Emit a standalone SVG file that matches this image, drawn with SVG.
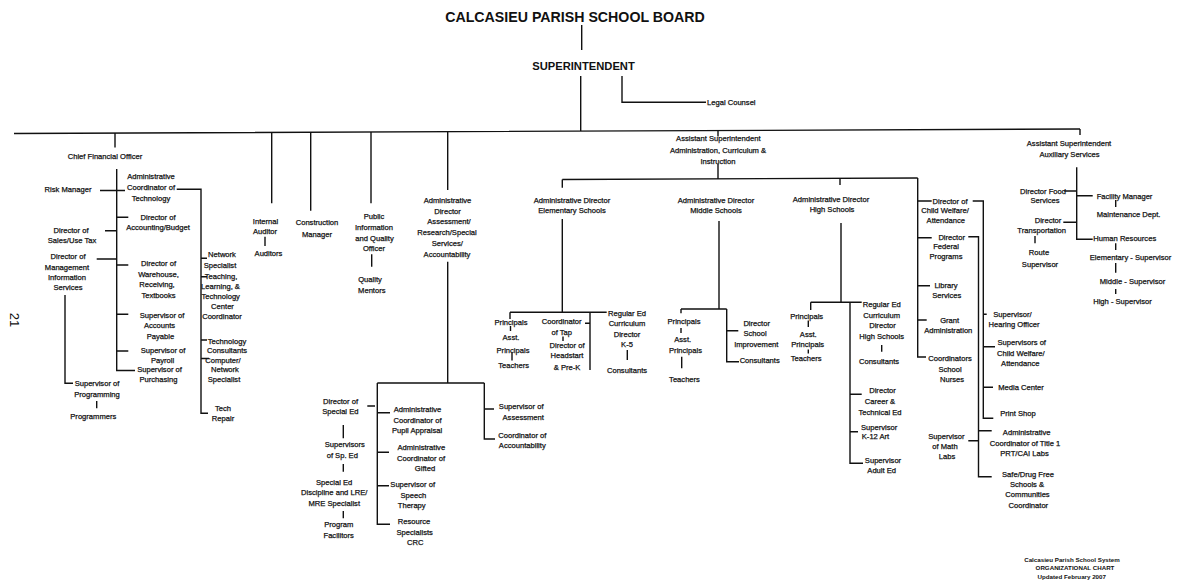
<svg xmlns="http://www.w3.org/2000/svg" width="1179" height="586" viewBox="0 0 1179 586">
<style>
.t{font-family:"Liberation Sans",Arial,sans-serif;font-size:7.6px;fill:#111;stroke:#111;stroke-width:0.25;text-anchor:middle}
.s{text-anchor:start}
.b{font-weight:bold;stroke:none}
.c{fill:none;stroke:#111;stroke-width:1.4}
</style>
<rect width="1179" height="586" fill="#fff"/>
<g id="connectors" class="c">
<path d="M581.7 25V50M580.7 76V131M622 76V102.3H706M14 133.5L1080 129"/>
<path d="M115 133V147.5M271.7 132.5V203.3M310.7 132.3V210.7M371 132V203.3M447.7 131.8V190M718 130.5V136.5M718 164V179M1080 129V135"/>
<path d="M116.7 169V370.5H135M100 190.5H125M116.7 217.3H128.3M105 230.7H116.7M96.7 259H116.7M116.7 265H128.3M116.7 314.3H128.3M116.7 351H128.3M65 295V383.3H73M96.7 401V408.3M176.7 189.3H201V413.3H208M201 258.3H207M201 276.7H207M201 340H207M201 358.5H209"/>
<path d="M265 236.7V246M371.7 254.3V266.7"/>
<path d="M447.7 261.7V383M377.3 383H484.3M377.3 383V524.3H390M377.3 412.7H390M377.3 452.3H389M377.3 485.7H389M367.3 406H375M484.3 383V439H495M484.3 409H494M343.3 425V438.3M343.3 464V471.7M343.3 511V518.3"/>
<path d="M562.3 179.5L917.7 178M562.3 179.5V187.7M562.3 219V312.3M510 312.3H606.7M510 312.3V319M510.5 326V331M512 352.7V360.5M590 312.3V370M585 323.3H590M563 336.5V341M627.3 350V360"/>
<path d="M719 221V309M681 309H726.7M681 309V313.3M681 328V333M681.7 356.7V368.3M726.7 309V361.7H739M726.7 330.7H738.3"/>
<path d="M840 178V185M841 223V302.3M810.7 302.3H861.7M810.7 302.3V310M808.3 320.5V327M808.3 349.5V353.5M850 302.3V463.3H863M850 394.3H861.7M850 431.7H858M881.7 345V351.7"/>
<path d="M917.7 178V357H926M917.7 201H931.7M917.7 237.7H931.7M917.7 285.7H930M917.7 320H926.7M972.7 201H983.3V418.3H993.3M983.3 314.3H986.7M983.3 346.7H995M983.3 387.3H993M968.3 236.7H978.5V476.7H991.7M978.5 430.7H991.7M968.3 440.7H978.5"/>
<path d="M1076.7 167.3V239.3H1092.7M1064.3 191H1076.7M1063.3 222.3H1076.7M1076.7 195.7H1092.7M1035 236V243.3M1115.7 200V207M1115.7 243.3V250M1115.7 263V272.7M1115.7 289V294"/>
</g>
<g id="board"><text class="t b" x="575" y="21.5" style="font-size:14.2px">CALCASIEU PARISH SCHOOL BOARD</text></g>
<g id="superintendent"><text class="t b" x="583.5" y="69.5" style="font-size:11.2px">SUPERINTENDENT</text></g>
<g id="legal"><text class="t s" x="707" y="105">Legal Counsel</text></g>
<g id="cfo"><text class="t" x="105" y="158.6">Chief Financial Officer</text></g>
<g id="risk"><text class="t" x="68" y="192">Risk Manager</text></g>
<g id="admtech"><text class="t"><tspan x="151" y="178.6">Administrative</tspan><tspan x="151" y="190.3">Coordinator of</tspan><tspan x="151" y="200.9">Technology</tspan></text></g>
<g id="accounting"><text class="t"><tspan x="158" y="219.9">Director of</tspan><tspan x="158" y="230.3">Accounting/Budget</tspan></text></g>
<g id="sales"><text class="t"><tspan x="71" y="232.6">Director of</tspan><tspan x="72" y="242.6">Sales/Use Tax</tspan></text></g>
<g id="mis"><text class="t"><tspan x="68" y="259.3">Director of</tspan><tspan x="67" y="269.9">Management</tspan><tspan x="67" y="280.3">Information</tspan><tspan x="68" y="290.3">Services</tspan></text></g>
<g id="warehouse"><text class="t"><tspan x="158.5" y="265.9">Director of</tspan><tspan x="158.5" y="276.6">Warehouse,</tspan><tspan x="157" y="286.9">Receiving,</tspan><tspan x="158.5" y="297.6">Textbooks</tspan></text></g>
<g id="payable"><text class="t"><tspan x="162" y="317.6">Supervisor of</tspan><tspan x="159.5" y="328.3">Accounts</tspan><tspan x="160.5" y="339.3">Payable</tspan></text></g>
<g id="payroll"><text class="t"><tspan x="163" y="352.6">Supervisor of</tspan><tspan x="162.5" y="362.6">Payroll</tspan></text></g>
<g id="purchasing"><text class="t"><tspan x="159.5" y="371.6">Supervisor of</tspan><tspan x="158.5" y="381.9">Purchasing</tspan></text></g>
<g id="programming"><text class="t"><tspan x="97" y="385.9">Supervisor of</tspan><tspan x="97" y="396.9">Programming</tspan></text></g>
<g id="programmers"><text class="t" x="93.3" y="419.3">Programmers</text></g>
<g id="network"><text class="t"><tspan x="222" y="256.9">Network</tspan><tspan x="220" y="268.3">Specialist</tspan></text></g>
<g id="teaching"><text class="t"><tspan x="221" y="279">Teaching,</tspan><tspan x="220.5" y="288.8">Learning, &amp;</tspan><tspan x="220.7" y="298.6">Technology</tspan><tspan x="222.5" y="308.6">Center</tspan><tspan x="222" y="318.6">Coordinator</tspan></text></g>
<g id="techcons"><text class="t"><tspan x="227" y="343.6">Technology</tspan><tspan x="227" y="353.3">Consultants</tspan></text></g>
<g id="computer"><text class="t"><tspan x="223" y="363">Computer/</tspan><tspan x="225" y="372.2">Network</tspan><tspan x="224" y="382">Specialist</tspan></text></g>
<g id="techrepair"><text class="t"><tspan x="223" y="410.9">Tech</tspan><tspan x="223" y="420.9">Repair</tspan></text></g>
<g id="auditor"><text class="t"><tspan x="265.5" y="223.6">Internal</tspan><tspan x="265" y="233.6">Auditor</tspan><tspan x="268.5" y="255.9">Auditors</tspan></text></g>
<g id="construction"><text class="t"><tspan x="317" y="225.3">Construction</tspan><tspan x="317" y="236.6">Manager</tspan></text></g>
<g id="public"><text class="t"><tspan x="374" y="218.6">Public</tspan><tspan x="374" y="229.9">Information</tspan><tspan x="374.5" y="240.9">and Quality</tspan><tspan x="374" y="250.9">Officer</tspan></text></g>
<g id="mentors"><text class="t"><tspan x="370" y="281.6">Quality</tspan><tspan x="371.8" y="292.6">Mentors</tspan></text></g>
<g id="assessment"><text class="t"><tspan x="447.5" y="202.6">Administrative</tspan><tspan x="447.5" y="213.6">Director</tspan><tspan x="449" y="224.3">Assessment/</tspan><tspan x="447" y="234.9">Research/Special</tspan><tspan x="447.3" y="245.9">Services/</tspan><tspan x="447" y="256.9">Accountability</tspan></text></g>
<g id="specialed"><text class="t"><tspan x="340.5" y="403.6">Director of</tspan><tspan x="340.3" y="413.6">Special Ed</tspan></text></g>
<g id="supsped"><text class="t"><tspan x="344.7" y="446.9">Supervisors</tspan><tspan x="342.3" y="457.6">of Sp. Ed</tspan></text></g>
<g id="discipline"><text class="t"><tspan x="334.2" y="484.9">Special Ed</tspan><tspan x="334.2" y="495.3">Discipline and LRE/</tspan><tspan x="334.3" y="505.9">MRE Specialist</tspan></text></g>
<g id="facilitors"><text class="t"><tspan x="338.7" y="526.9">Program</tspan><tspan x="338.7" y="537.6">Facilitors</tspan></text></g>
<g id="pupil"><text class="t"><tspan x="417.5" y="411.9">Administrative</tspan><tspan x="417.5" y="422.6">Coordinator of</tspan><tspan x="417" y="433.3">Pupil Appraisal</tspan></text></g>
<g id="gifted"><text class="t"><tspan x="421.3" y="450.3">Administrative</tspan><tspan x="421" y="460.9">Coordinator of</tspan><tspan x="425" y="470.9">Gifted</tspan></text></g>
<g id="speech"><text class="t"><tspan x="412.7" y="486.9">Supervisor of</tspan><tspan x="413.3" y="497.6">Speech</tspan><tspan x="411.7" y="508.3">Therapy</tspan></text></g>
<g id="resource"><text class="t"><tspan x="414" y="524.3">Resource</tspan><tspan x="414.7" y="534.9">Specialists</tspan><tspan x="415.3" y="545.3">CRC</tspan></text></g>
<g id="supassess"><text class="t"><tspan x="521.2" y="409.3">Supervisor of</tspan><tspan x="523.2" y="420.3">Assessment</tspan></text></g>
<g id="coordacc"><text class="t"><tspan x="522.3" y="437.6">Coordinator of</tspan><tspan x="522.3" y="448.3">Accountability</tspan></text></g>
<g id="asstadmin"><text class="t"><tspan x="718.3" y="140.9">Assistant Superintendent</tspan><tspan x="718" y="152.6">Administration, Curriculum &amp;</tspan><tspan x="718" y="163.6">Instruction</tspan></text></g>
<g id="elementary"><text class="t"><tspan x="572" y="202.9">Administrative Director</tspan><tspan x="572" y="213.3">Elementary Schools</tspan></text></g>
<g id="e-principals"><text class="t"><tspan x="511" y="325.3">Principals</tspan><tspan x="511" y="339.6">Asst.</tspan><tspan x="513" y="352.6">Principals</tspan><tspan x="513.7" y="367.6">Teachers</tspan></text></g>
<g id="tap"><text class="t"><tspan x="561.7" y="324.3">Coordinator</tspan><tspan x="561.7" y="334.9">of Tap</tspan></text></g>
<g id="headstart"><text class="t"><tspan x="567" y="347.6">Director of</tspan><tspan x="567" y="357.6">Headstart</tspan><tspan x="567" y="369.9">&amp; Pre-K</tspan></text></g>
<g id="regk5"><text class="t"><tspan x="627" y="315.9">Regular Ed</tspan><tspan x="627" y="325.9">Curriculum</tspan><tspan x="627" y="336.6">Director</tspan><tspan x="627" y="346.9">K-5</tspan><tspan x="627" y="372.6">Consultants</tspan></text></g>
<g id="middle"><text class="t"><tspan x="716" y="203.3">Administrative Director</tspan><tspan x="716" y="213.3">Middle Schools</tspan></text></g>
<g id="m-principals"><text class="t"><tspan x="684" y="323.6">Principals</tspan><tspan x="682.7" y="341.6">Asst.</tspan><tspan x="685.5" y="352.6">Principals</tspan><tspan x="684.5" y="381.9">Teachers</tspan></text></g>
<g id="improvement"><text class="t"><tspan x="756.7" y="325.9">Director</tspan><tspan x="755" y="335.9">School</tspan><tspan x="756.3" y="346.9">Improvement</tspan></text></g>
<g id="m-consultants"><text class="t" x="759.7" y="362.6">Consultants</text></g>
<g id="high"><text class="t"><tspan x="831" y="201.9">Administrative Director</tspan><tspan x="832" y="211.9">High Schools</tspan></text></g>
<g id="h-principals"><text class="t"><tspan x="806.7" y="319.3">Principals</tspan><tspan x="808.3" y="336.9">Asst.</tspan><tspan x="807.7" y="346.9">Principals</tspan><tspan x="806.2" y="360.9">Teachers</tspan></text></g>
<g id="reghs"><text class="t"><tspan x="881.7" y="306.9">Regular Ed</tspan><tspan x="881.7" y="317.6">Curriculum</tspan><tspan x="882.5" y="328.3">Director</tspan><tspan x="881.7" y="339.3">High Schools</tspan><tspan x="879" y="364.3">Consultants</tspan></text></g>
<g id="career"><text class="t"><tspan x="882.5" y="393.3">Director</tspan><tspan x="880" y="404.3">Career &amp;</tspan><tspan x="880" y="414.9">Technical Ed</tspan></text></g>
<g id="k12art"><text class="t"><tspan x="879.2" y="429.9">Supervisor</tspan><tspan x="875.5" y="439.3">K-12 Art</tspan></text></g>
<g id="adulted"><text class="t"><tspan x="883" y="462.6">Supervisor</tspan><tspan x="881.7" y="473.3">Adult Ed</tspan></text></g>
<g id="childwelfare"><text class="t"><tspan x="950" y="203.6">Director of</tspan><tspan x="945" y="212.6">Child Welfare/</tspan><tspan x="945.8" y="222.6">Attendance</tspan></text></g>
<g id="federal"><text class="t"><tspan x="951.7" y="240.3">Director</tspan><tspan x="946" y="248.6">Federal</tspan><tspan x="946" y="258.6">Programs</tspan></text></g>
<g id="library"><text class="t"><tspan x="946" y="288.3">Library</tspan><tspan x="946.7" y="297.9">Services</tspan></text></g>
<g id="grant"><text class="t"><tspan x="949.7" y="322.6">Grant</tspan><tspan x="948.3" y="333.3">Administration</tspan></text></g>
<g id="nurses"><text class="t"><tspan x="950" y="360.9">Coordinators</tspan><tspan x="950" y="371.6">School</tspan><tspan x="952" y="381.6">Nurses</tspan></text></g>
<g id="mathlabs"><text class="t"><tspan x="946.3" y="438.6">Supervisor</tspan><tspan x="945" y="449.3">of Math</tspan><tspan x="947" y="459.3">Labs</tspan></text></g>
<g id="hearing"><text class="t"><tspan x="1012.5" y="316.9">Supervisor/</tspan><tspan x="1014" y="327">Hearing Officer</tspan></text></g>
<g id="supcw"><text class="t"><tspan x="1021.7" y="345.3">Supervisors of</tspan><tspan x="1020.8" y="355.9">Child Welfare/</tspan><tspan x="1020.3" y="365.9">Attendance</tspan></text></g>
<g id="media"><text class="t" x="1021" y="389.9">Media Center</text></g>
<g id="print"><text class="t" x="1018" y="415.9">Print Shop</text></g>
<g id="title1"><text class="t"><tspan x="1026.7" y="434.9">Administrative</tspan><tspan x="1025" y="445.9">Coordinator of Title 1</tspan><tspan x="1024.5" y="455.9">PRT/CAI Labs</tspan></text></g>
<g id="safe"><text class="t"><tspan x="1028" y="476.6">Safe/Drug Free</tspan><tspan x="1027" y="486.9">Schools &amp;</tspan><tspan x="1027.5" y="496.9">Communities</tspan><tspan x="1028.3" y="507.6">Coordinator</tspan></text></g>
<g id="auxiliary"><text class="t"><tspan x="1069" y="145.9">Assistant Superintendent</tspan><tspan x="1069.5" y="156.6">Auxiliary Services</tspan></text></g>
<g id="food"><text class="t"><tspan x="1043" y="193.6">Director Food</tspan><tspan x="1045" y="203.3">Services</tspan></text></g>
<g id="transport"><text class="t"><tspan x="1048" y="222.6">Director</tspan><tspan x="1041.7" y="232.6">Transportation</tspan></text></g>
<g id="route"><text class="t"><tspan x="1039" y="255.3">Route</tspan><tspan x="1040" y="266.6">Supervisor</tspan></text></g>
<g id="facility"><text class="t s" x="1096.7" y="198.6">Facility Manager</text></g>
<g id="maintenance"><text class="t s" x="1096.7" y="216.9">Maintenance Dept.</text></g>
<g id="hr"><text class="t s" x="1093.3" y="241.3">Human Resources</text></g>
<g id="elemsup"><text class="t" x="1130.5" y="259.9">Elementary - Supervisor</text></g>
<g id="midsup"><text class="t" x="1132.5" y="284.3">Middle - Supervisor</text></g>
<g id="highsup"><text class="t" x="1122.5" y="304.3">High - Supervisor</text></g>
<g id="footer"><text class="t b" style="font-size:6.2px"><tspan x="1072" y="561.5">Calcasieu Parish School System</tspan><tspan x="1075" y="569.5">ORGANIZATIONAL CHART</tspan><tspan x="1071.7" y="579">Updated February 2007</tspan></text></g>
<g id="pagenum"><text class="t" transform="translate(9.5,320) rotate(90)" x="0" y="0" style="font-size:13px;stroke:none">21</text></g>
</svg>
